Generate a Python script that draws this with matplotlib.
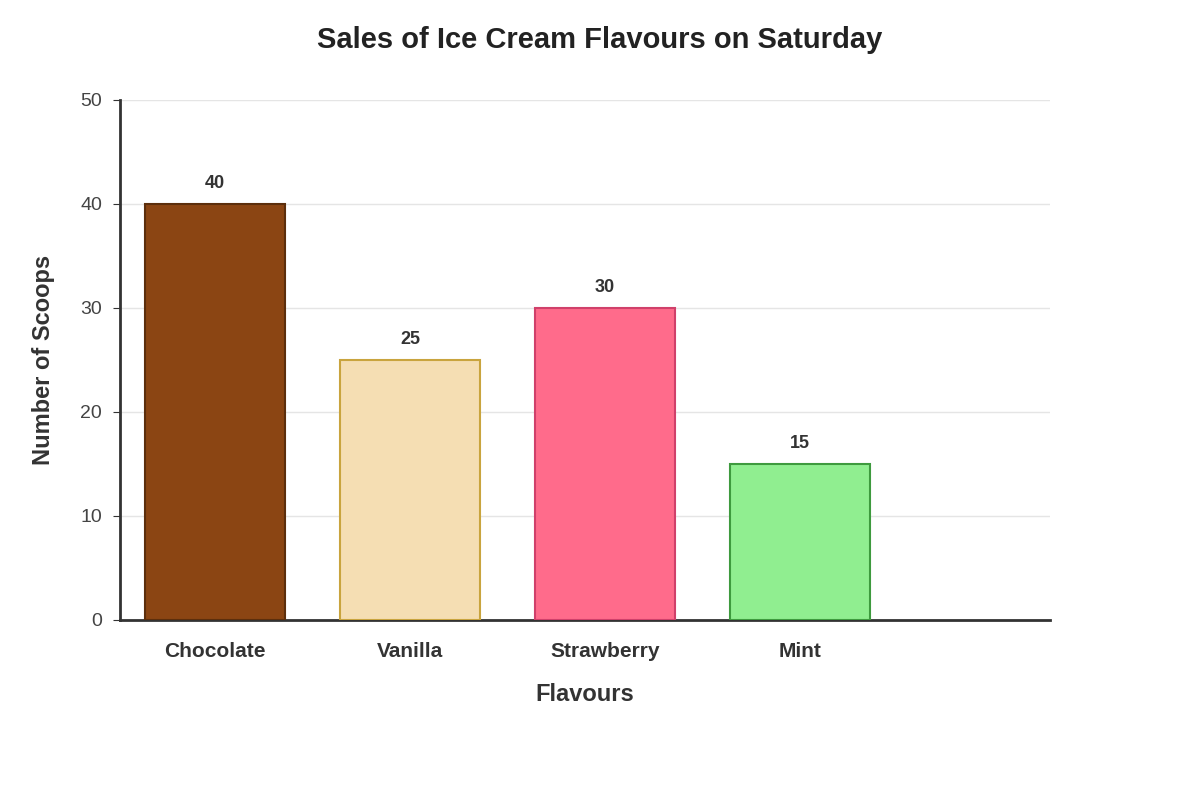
import matplotlib
matplotlib.use("Agg")
import matplotlib.pyplot as plt

flavours = ["Chocolate", "Vanilla", "Strawberry", "Mint"]
scoops = [40, 25, 30, 15]
fills = ["#8B4513", "#F5DEB3", "#FF6B8B", "#90EE90"]
edges = ["#5C2E0C", "#C9A43E", "#D0406A", "#3E9A3E"]

plt.rcParams['font.family'] = ['Liberation Sans', 'DejaVu Sans']
fig = plt.figure(figsize=(12, 8), dpi=100)
ax = fig.add_axes([0.1, 0.225, 0.775, 0.65])
x = list(range(len(flavours)))
ax.bar(x, scoops, width=0.718, color=fills, edgecolor=edges, linewidth=1.5, zorder=3)
for xi, v in zip(x, scoops):
    ax.text(xi, v + 1.2, str(v), ha='center', va='bottom', fontsize=13, fontweight='bold', color='#333333')
ax.set_xlim(-0.487, 4.282)
ax.set_ylim(0, 50)
ax.set_yticks(range(0, 51, 10))
ax.set_xticks(x)
ax.set_xticklabels(flavours, fontsize=15, fontweight='bold', color='#333333')
ax.tick_params(axis='x', length=0, pad=16)
ax.tick_params(axis='y', labelsize=14, labelcolor='#444444', length=5, color='#333333', pad=8)
ax.grid(axis='y', color='#e5e5e5', linewidth=1, zorder=0)
for s in ['top', 'right']:
    ax.spines[s].set_visible(False)
for s in ['left', 'bottom']:
    ax.spines[s].set_color('#333333')
    ax.spines[s].set_linewidth(2)
ax.set_xlabel("Flavours", fontsize=17, fontweight='bold', color='#333333', labelpad=16)
ax.set_ylabel("Number of Scoops", fontsize=17, fontweight='bold', color='#333333', labelpad=18)
fig.text(0.5, 0.95, "Sales of Ice Cream Flavours on Saturday", ha='center', va='center',
         fontsize=21, fontweight='bold', color='#222222')
fig.savefig("out.png", dpi=100, facecolor='white')
